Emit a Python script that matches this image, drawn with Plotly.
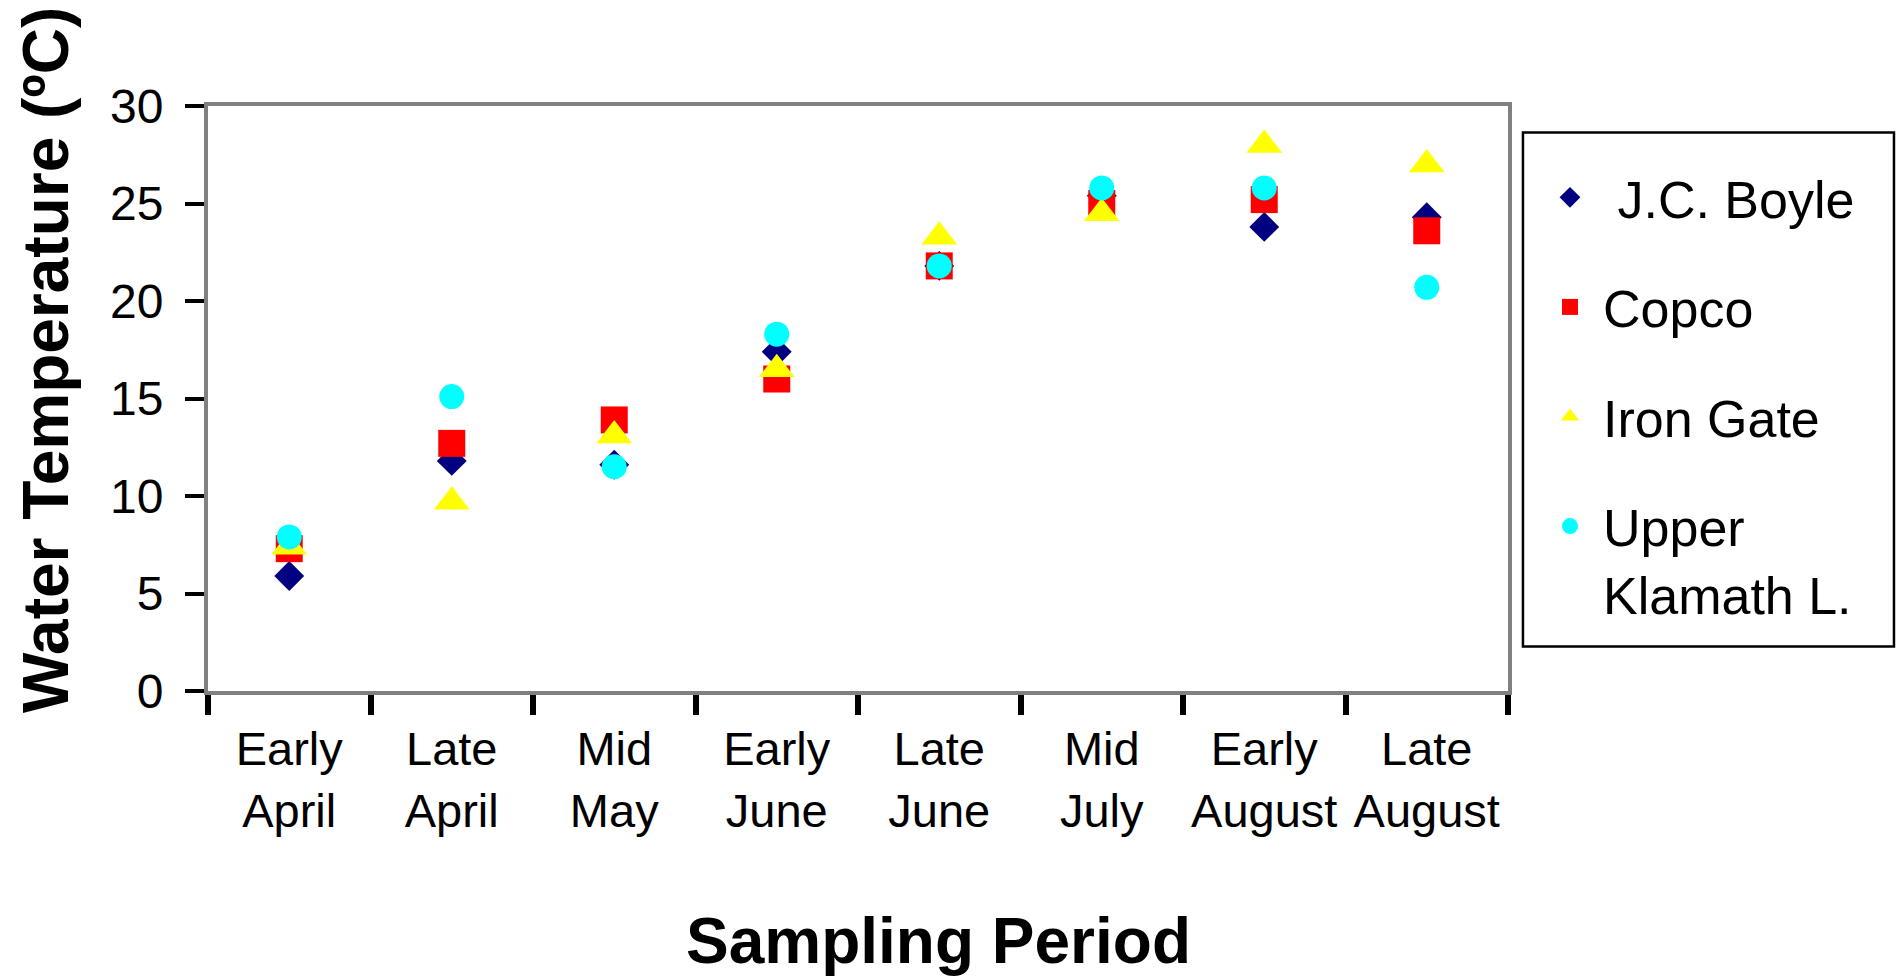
import plotly.graph_objects as go

categories = ["Early<br>April", "Late<br>April", "Mid<br>May", "Early<br>June",
              "Late<br>June", "Mid<br>July", "Early<br>August", "Late<br>August"]

jc_boyle = [5.9, 11.8, 11.6, 17.4, 21.8, 25.4, 23.8, 24.3]
copco = [7.3, 12.7, 13.9, 16.0, 21.8, 25.0, 25.2, 23.6]
iron_gate = [7.4, 9.7, 13.1, 16.5, 23.3, 24.5, 28.0, 27.0]
upper_klamath = [7.9, 15.1, 11.5, 18.3, 21.8, 25.8, 25.8, 20.7]

y_ticks = [0, 5, 10, 15, 20, 25, 30]

FONT = "Liberation Sans, Arial, sans-serif"

series = [
    (" J.C. Boyle", jc_boyle, "diamond", "#000080", 23),
    ("Copco", copco, "square", "#FF0000", 27),
    ("Iron Gate", iron_gate, "triangle-up", "#FFFF00", 31),
    ("Upper<br>Klamath L.", upper_klamath, "circle", "#00FFFF", 25),
]

fig = go.Figure()
for i, (name, vals, sym, col, sz) in enumerate(series):
    fig.add_trace(go.Scatter(
        x=categories, y=vals, mode="markers", name=name,
        legendgroup=f"g{i}",
        marker=dict(symbol=sym, color=col, size=sz, line=dict(width=0)),
    ))

fig.update_layout(
    width=1900, height=978,
    margin=dict(l=208, r=392, t=106, b=287),
    paper_bgcolor="white", plot_bgcolor="white",
    font=dict(family=FONT, color="black", size=48),
    showlegend=True,
    legend=dict(
        x=1.0223, y=0.9128, xanchor="left", yanchor="top",
        font=dict(family=FONT, size=52, color="black"),
        bgcolor="rgba(0,0,0,0)", borderwidth=0,
        tracegroupgap=39, itemwidth=56, valign="top",
    ),
    xaxis=dict(
        type="category", range=[-0.5, 7.5], tickson="boundaries",
        showline=True, linecolor="#808080", linewidth=4, mirror=True,
        ticks="outside", ticklen=20, tickwidth=6, tickcolor="black",
        showgrid=False, zeroline=False, tickangle=0,
        tickfont=dict(family=FONT, size=47, color="black"),
        ticklabelstandoff=14,
    ),
    yaxis=dict(
        range=[0, 30], tickvals=y_ticks,
        showline=True, linecolor="#808080", linewidth=4, mirror=True,
        ticks="outside", ticklen=19, tickwidth=4, tickcolor="black",
        showgrid=False, zeroline=False,
        tickfont=dict(family=FONT, size=48, color="black"),
        ticklabelstandoff=12,
    ),
    shapes=[dict(
        type="rect", xref="paper", yref="paper",
        x0=1.0115, x1=1.2969, y0=0.076, y1=0.9547,
        line=dict(color="black", width=2.5), fillcolor="rgba(0,0,0,0)",
    )],
    annotations=[
        dict(text="<b>Water Temperature (ºC)</b>", xref="paper", yref="paper",
             x=-0.1246, y=0.566, xanchor="center", yanchor="middle",
             textangle=-90, showarrow=False,
             font=dict(family=FONT, size=64, color="black")),
        dict(text="<b>Sampling Period</b>", xref="paper", yref="paper",
             x=0.562, y=-0.427, xanchor="center", yanchor="middle",
             showarrow=False,
             font=dict(family=FONT, size=64, color="black")),
    ],
)

fig.write_html("out.html")
